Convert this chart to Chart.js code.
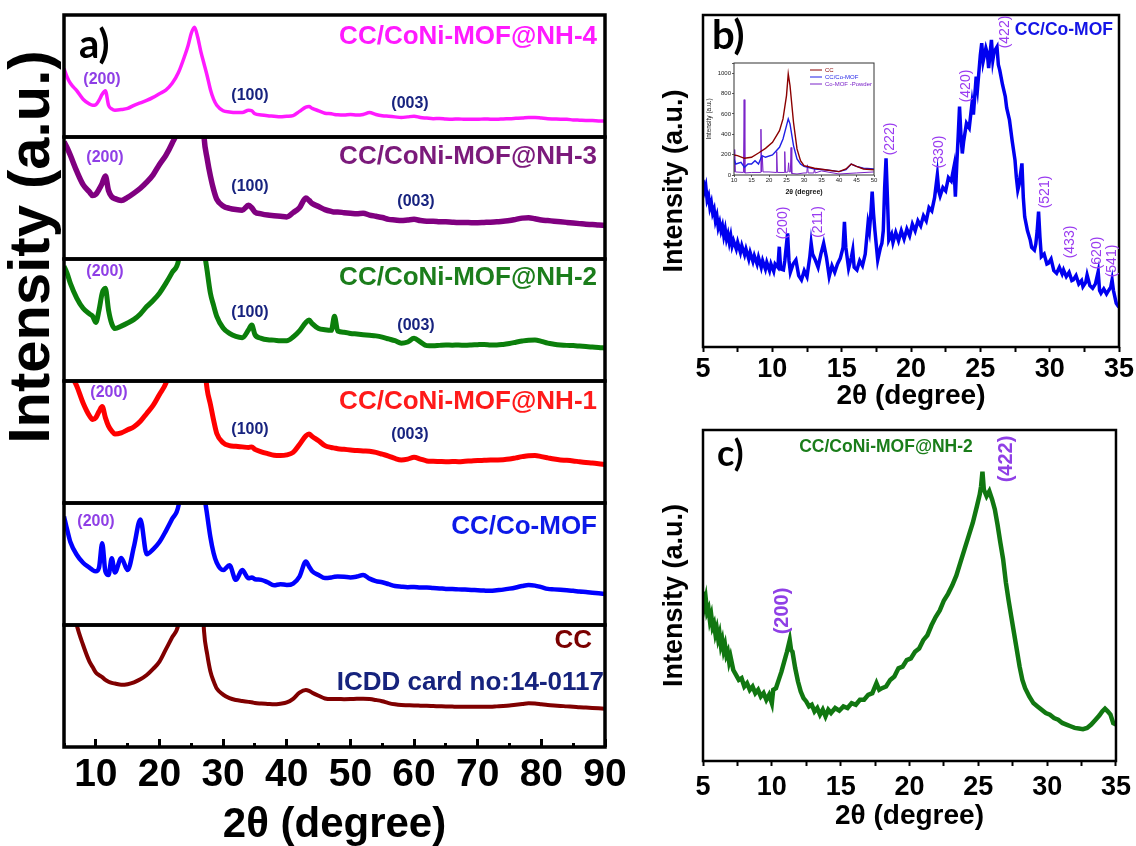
<!DOCTYPE html>
<html>
<head>
<meta charset="utf-8">
<script src="https://cdn.jsdelivr.net/npm/chart.js@4.4.1/dist/chart.umd.min.js"></script>
<style>
  html, body { margin:0; padding:0; background:#ffffff; }
  body { width:1136px; height:846px; position:relative; overflow:hidden; }
  canvas { position:absolute; display:block; }
</style>
</head>
<body>
<canvas id="panelA" width="640" height="846" style="left:0px;top:0px;width:640px;height:846px"></canvas>
<canvas id="panelB" width="496" height="420" style="left:640px;top:0px;width:496px;height:420px"></canvas>
<canvas id="panelInset" width="180" height="145" style="left:700px;top:55px;width:180px;height:145px"></canvas>
<canvas id="panelC" width="496" height="426" style="left:640px;top:420px;width:496px;height:426px"></canvas>
<script>
// ---------------- DATA ----------------
// Panel a: 2θ grid (degree) shared by the six stacked patterns; intensities in a.u. (0-100 per sub-panel)
const thetaA = [5, 5.5, 6, 7, 8, 9, 9.5, 10, 10.5, 11,
  11.5, 12, 12.5, 13, 14, 15, 16, 17, 18, 19,
  20, 21, 22, 23, 24, 24.5, 25, 25.5, 26, 26.5,
  27, 27.5, 28, 28.5, 29, 30, 31, 32, 33, 34,
  34.5, 35, 36, 37, 38, 39, 40, 41, 42, 43,
  43.5, 44, 45, 46, 47, 47.5, 48, 49, 50, 51,
  52, 53, 54, 55, 56, 57, 58, 59, 60, 61,
  62, 63, 64, 65, 66, 67, 68, 69, 70, 71,
  72, 73, 74, 75, 76, 77, 78, 79, 80, 81,
  82, 83, 84, 85, 86, 87, 88, 89, 90];

const nh4 = [56, 49, 44, 38, 31, 27, 26, 26.5, 30, 35,
  38, 26, 23, 22, 22.5, 23.5, 26, 28, 30, 32.5,
  35.5, 38.5, 44, 53, 67, 75, 85, 90, 82, 70,
  60, 50, 39, 31, 26, 21.5, 20.5, 20, 20, 22,
  21.5, 19, 18, 17.4, 17, 16.5, 17, 17.5, 21, 24.5,
  25, 23.5, 21.5, 19.5, 19, 18.5, 18.2, 18, 18.5, 18,
  18.5, 20, 18.5, 17.5, 17, 16.5, 16, 16.5, 17, 16,
  15.5, 15, 15.2, 14.8, 14.6, 14.8, 14.5, 14.6, 14.5, 14.8,
  14.6, 14.5, 14.8, 15, 15.3, 15.6, 16, 16, 15.5, 15,
  14.8, 14.6, 14.5, 14, 13.8, 13.6, 13.5, 13.2, 13];

const nh3 = [96, 91, 85, 72, 61, 55, 52, 53, 57, 62,
  68, 56, 51, 49.5, 48, 50.5, 54, 58, 63, 69,
  77.5, 85, 95, 108, 140, 165, 190, 200, 185, 150,
  100, 82, 68, 57, 49, 43.5, 41.5, 40.5, 40, 44,
  42, 38.5, 37, 36, 35.5, 35, 34.5, 38, 42, 50,
  48, 45.5, 43, 40.5, 39, 38.5, 38.5, 38, 37.5, 37,
  37.5, 36, 35, 34, 32.5, 32, 31.5, 32, 32.5, 31.5,
  31, 31, 30.6, 30.5, 30.2, 30, 30, 29.8, 29.8, 30,
  30.2, 30.5, 31, 31.5, 32.5, 33.5, 33.9, 33, 32, 31.5,
  31, 30.5, 30, 29.5, 29, 28.5, 28.2, 27.8, 27.5];

const nh2 = [94, 88, 80, 68, 59.6, 55, 53, 48, 58, 72,
  76, 58, 47, 43, 45, 47.5, 50.5, 55, 61, 66,
  72, 80, 89, 99, 140, 165, 190, 200, 185, 150,
  110, 90, 72, 62, 53, 43.5, 39, 36.5, 35.5, 42,
  46, 38, 35, 33.8, 33.5, 33, 33, 36, 41, 48,
  50, 47, 43, 42, 41.5, 53, 41, 40, 39, 38.5,
  38, 37.5, 37, 36, 34.5, 33, 31, 32, 35, 32,
  29, 28.8, 29.2, 29.5, 29.4, 29.5, 29.3, 29.5, 29.8, 30,
  29.6, 29.5, 30, 30.8, 31.8, 32.8, 33.5, 33.6, 32.5, 31,
  30.2, 29.6, 29.2, 29, 28.6, 28.2, 27.8, 27.5, 27];

const nh1 = [120, 113, 106, 96, 82, 71.5, 68.5, 70, 75, 79,
  70, 63, 59, 56.5, 57.5, 60, 62.5, 67, 73.4, 80,
  89, 98, 115, 135, 160, 175, 190, 200, 190, 160,
  118, 93, 81, 68, 57, 49.4, 47, 46.5, 46, 45.5,
  46, 44, 42, 40.5, 39.2, 39, 39.5, 41.5, 48, 55,
  56.5, 54.5, 51, 47, 45.5, 45, 44.5, 44, 43.5, 43,
  42.6, 42.4, 41.5, 40, 38.5, 36.5, 35.3, 36, 37.5, 36,
  34.5, 34.2, 34, 33.8, 34, 33.9, 34.2, 34.5, 34.8, 35,
  35.2, 35.3, 35.5, 36, 37, 38, 38.8, 39, 38, 37,
  36, 35.3, 35, 34.5, 33.8, 33.2, 32.8, 32.2, 31.5];

const coMOF = [89, 78, 68, 57.6, 51, 47, 45, 44, 47, 67,
  44, 41, 54.8, 43, 55, 45, 64.5, 86.5, 58, 62,
  68, 77, 87, 98, 140, 165, 190, 200, 185, 150,
  110, 90, 72, 59, 51, 45, 49, 37, 45, 38.3,
  39, 37.5, 37, 35, 32.5, 33.5, 32.8, 34, 39.7, 52,
  48, 44, 41, 38.5, 39, 39.5, 39.7, 39.5, 39, 39.7,
  41, 38, 36, 35, 33.5, 32, 31.4, 31, 31.2, 30.8,
  30.8, 30.3, 30, 29.6, 29.5, 29.2, 29, 28.7, 28.5, 28.2,
  28, 28.5, 29, 29.8, 30.8, 32, 32.8, 32.3, 31, 29.6,
  29.2, 28.8, 28.4, 28, 27.4, 27, 26.5, 26, 25.5];

const cc = [160, 140, 125, 100, 83.6, 70, 65.5, 61, 59, 57.3,
  55, 53.5, 52.5, 52, 51, 51.5, 53, 55.5, 59, 64,
  70, 80, 90, 101, 140, 165, 190, 200, 185, 150,
  95, 76, 62, 54, 48, 43, 40, 38.5, 37.7, 37,
  36.7, 36, 35.6, 35.3, 35, 35.5, 36.5, 39.5, 44.5, 46.7,
  46, 44.5, 42, 39.8, 39.3, 39.3, 39.3, 39.2, 39.3, 39.5,
  39.6, 39.3, 38.5, 37.5, 36, 35, 34.4, 34.2, 34, 33.9,
  33.8, 33.6, 33.4, 33.2, 33.1, 33, 33, 33, 33, 33,
  33, 33.3, 33.6, 34, 34.6, 35.2, 35.8, 35.6, 35, 34.4,
  34, 33.7, 33.3, 33, 32.6, 32.3, 32, 31.7, 31.4];

// Panel b: CC/Co-MOF, 2θ 5-35
const thetaB = [5.0, 5.1, 5.2, 5.3, 5.4, 5.5, 5.6, 5.7, 5.8, 5.9,
  6.0, 6.1, 6.2, 6.3, 6.4, 6.5, 6.6, 6.7, 6.8, 6.9,
  7.0, 7.1, 7.2, 7.4, 7.5, 7.7, 7.8, 8.0, 8.1, 8.3,
  8.4, 8.6, 8.7, 8.9, 9.0, 9.2, 9.3, 9.5, 9.6, 9.8,
  9.9, 10.1, 10.2, 10.4, 10.5, 10.6, 10.8, 10.9, 11.1, 11.2,
  11.3, 11.5, 11.7, 11.9, 12.1, 12.3, 12.5, 12.7, 12.8, 12.9,
  13.1, 13.3, 13.5, 13.7, 13.9, 14.1, 14.3, 14.5, 14.7, 14.9,
  15.1, 15.2, 15.3, 15.5, 15.7, 15.8, 15.9, 16.1, 16.3, 16.5,
  16.7, 16.9, 17.0, 17.1, 17.2, 17.3, 17.4, 17.6, 17.8, 17.9,
  18.0, 18.1, 18.2, 18.3, 18.4, 18.6, 18.7, 18.9, 19.1, 19.3,
  19.5, 19.7, 19.9, 20.1, 20.3, 20.5, 20.7, 20.9, 21.1, 21.3,
  21.5, 21.7, 21.9, 22.0, 22.1, 22.3, 22.5, 22.7, 22.9, 23.1,
  23.2, 23.3, 23.4, 23.5, 23.6, 23.7, 23.8, 24.0, 24.2, 24.4,
  24.5, 24.7, 24.8, 25.0, 25.1, 25.2, 25.4, 25.5, 25.6, 25.8,
  25.9, 26.0, 26.2, 26.3, 26.4, 26.6, 26.8, 26.9, 27.1, 27.3,
  27.5, 27.6, 27.7, 27.8, 28.0, 28.1, 28.2, 28.4, 28.6, 28.7,
  28.9, 29.0, 29.1, 29.2, 29.3, 29.4, 29.6, 29.8, 29.9, 30.1,
  30.3, 30.5, 30.7, 30.9, 31.0, 31.2, 31.4, 31.6, 31.7, 31.9,
  32.1, 32.3, 32.4, 32.6, 32.7, 32.9, 33.1, 33.3, 33.5, 33.6,
  33.7, 33.9, 34.1, 34.2, 34.4, 34.5, 34.6, 34.8, 35.0];
const intensityB = [50.3, 47, 48.5, 44.3, 45.5, 42, 43.5, 40.3, 41.5, 38,
  39.5, 36, 37.5, 35, 36.5, 33.5, 35.5, 32.5, 34, 31.5,
  33.5, 30.5, 32, 29.5, 31.5, 28.5, 30.5, 27.8, 29.5, 26.5,
  28.5, 25.8, 27.5, 25, 27, 24, 26, 23.5, 25.5, 23,
  25, 22.8, 25, 24, 30.2, 23.5, 23.2, 26, 34.2, 26,
  22.5, 25, 26.2, 21.5, 20.2, 23, 21.2, 27, 31.2, 28,
  26.2, 24, 28, 31.2, 27, 21.2, 24.5, 22.5, 25, 26.7,
  30, 37.7, 30, 23.7, 27, 29.2, 24, 23.2, 26, 24.5,
  28, 37.2, 35, 40, 46.8, 40, 35, 26.2, 30, 31.2,
  35, 48, 56.8, 45, 32.2, 34, 31.5, 34.5, 32, 35,
  32.5, 35.5, 33.5, 37, 35, 38, 36.5, 39.5, 38, 42,
  41, 45, 51.8, 47, 45.5, 48, 47, 51, 50, 54.3,
  45.3, 55, 63.3, 72.4, 64, 58.3, 62, 67.4, 66, 73.4,
  70, 81.4, 78, 88, 91.5, 86, 90, 88.5, 84, 92.5,
  86.4, 89, 90.4, 85, 83.4, 79, 75.4, 72, 68.4, 62,
  56.3, 51, 47.3, 49, 55.3, 45, 39.2, 35, 32.2, 30,
  29.2, 31, 35, 40.8, 33, 27.2, 28, 25, 25.2, 26.5,
  23, 22.2, 24, 22, 23.2, 21.2, 22.5, 20, 20.2, 21.5,
  19, 20, 18.2, 19.5, 21.7, 18.5, 17.7, 19, 22.7, 17,
  16.2, 17.5, 16, 16.7, 18, 20.2, 17, 13.2, 12];

// Inset of panel b (Intensity a.u., 2θ 10-50)
const insetCCX = [10, 11, 13, 15, 17, 19, 21, 23, 24, 25, 25.5, 26, 27, 28, 29, 30, 33, 36, 40, 42, 43.5, 45, 47, 50];
const insetCCY = [197, 190, 164, 174, 216, 262, 321, 436, 551, 780, 993, 879, 518, 256, 141, 92, 66, 52, 33, 59, 108, 85, 59, 52];
const insetMofX = [10, 10.5, 12, 13, 14, 15, 16, 17, 18, 19, 21, 23, 24, 25, 25.5, 26, 27, 28, 29, 30, 33, 36, 40, 42, 43.5, 45, 47, 50];
const insetMofY = [157, 108, 125, 75, 108, 108, 141, 108, 190, 174, 197, 272, 354, 485, 551, 502, 289, 157, 108, 85, 59, 52, 33, 52, 108, 85, 66, 59];
const insetPowX = [10, 10.2, 10.4, 12.7, 12.9, 13.1, 15, 17.5, 17.7, 17.9,
  18.1, 18.3, 20, 22, 22.2, 22.4, 24.3, 24.5, 24.7, 25.4,
  25.6, 25.8, 26.1, 26.3, 26.5, 28, 30, 30.8, 31, 31.2,
  32.8, 33, 33.2, 35, 40, 45, 50];
const insetPowY = [33, 250, 30, 25, 740, 20, 25, 25, 450, 30,
  180, 30, 30, 25, 230, 25, 25, 230, 25, 30,
  120, 30, 30, 270, 15, 10, 20, 20, 100, 20,
  20, 60, 20, 40, 10, 20, 30];

// Panel c: CC/CoNi-MOF@NH-2, 2θ 5-35
const thetaC = [5.0, 5.1, 5.2, 5.3, 5.4, 5.5, 5.6, 5.7, 5.8, 5.9,
  6.0, 6.1, 6.2, 6.3, 6.4, 6.5, 6.6, 6.7, 6.8, 6.9,
  7.0, 7.2, 7.4, 7.6, 7.8, 8.0, 8.2, 8.4, 8.6, 8.8,
  9.0, 9.2, 9.4, 9.6, 9.8, 10.0, 10.1, 10.3, 10.5, 10.7,
  10.9, 11.1, 11.3, 11.4, 11.5, 11.7, 11.9, 12.1, 12.3, 12.5,
  12.7, 12.9, 13.1, 13.3, 13.5, 13.7, 13.9, 14.1, 14.3, 14.6,
  14.9, 15.2, 15.5, 15.8, 16.1, 16.4, 16.7, 17.0, 17.3, 17.6,
  17.8, 18.0, 18.3, 18.6, 18.9, 19.2, 19.5, 19.8, 20.1, 20.4,
  20.7, 21.0, 21.3, 21.6, 21.9, 22.2, 22.5, 22.8, 23.1, 23.4,
  23.7, 24.0, 24.3, 24.6, 24.9, 25.1, 25.2, 25.3, 25.4, 25.6,
  25.8, 26.0, 26.2, 26.4, 26.6, 26.8, 27.0, 27.2, 27.4, 27.6,
  27.8, 28.0, 28.2, 28.4, 28.7, 29.0, 29.3, 29.6, 29.9, 30.2,
  30.5, 30.8, 31.1, 31.4, 31.7, 32.0, 32.3, 32.6, 32.9, 33.2,
  33.5, 33.8, 34.0, 34.2, 34.4, 34.6, 34.8, 35.0];
const intensityC = [51.2, 47, 49, 45, 46, 42.5, 44, 40.5, 41.5, 38.5,
  40, 37, 38.5, 35, 36.5, 33.5, 35, 32, 33, 30,
  31.5, 27.5, 26, 24.5, 25, 22.5, 23.5, 21.5, 22.5, 20.5,
  21.5, 19.5, 20.5, 18.5, 20, 17.5, 21.5, 22, 24.5, 27,
  30, 33, 36.5, 33.5, 33, 28, 24, 21, 19, 18,
  16.5, 17, 15, 16, 14, 15.5, 13.5, 15.5, 14.5, 16,
  15.2, 16.5, 16, 17.5, 17, 18.5, 18.5, 20, 20.5, 23.5,
  21.5, 22, 22.5, 24.5, 25.5, 28, 28.5, 30.5, 31, 33,
  34, 36.5, 38, 41, 43.5, 45.5, 48.5, 50.5, 53, 56,
  60, 64, 68, 72, 77, 80.5, 83, 87.4, 82, 80,
  81.5, 79, 76, 71.3, 66, 61, 54, 48.5, 43.5, 38.5,
  33.5, 28.5, 24.5, 22, 19.5, 17.5, 16.5, 15.5, 14.5, 14,
  13, 12.5, 11.5, 11, 10.5, 10, 9.8, 9.6, 10, 11,
  12.4, 13.8, 15, 15.8, 15, 14, 11.4, 11];

// ---------------- STYLE / HELPERS ----------------
const FONT = '"Liberation Sans", Arial, Helvetica, sans-serif';
const PANEL_FONT = 'Lato, "Open Sans", "Liberation Sans", sans-serif';
const bold = px => 'bold ' + px + 'px ' + FONT;
const reg = px => px + 'px ' + FONT;
const PEAK_PURPLE = '#8f3fe6';
const PEAK_NAVY = '#17237f';

Chart.defaults.font.family = FONT;
Chart.defaults.color = '#000';

function textPlugin(items) {
  return {
    id: 'texts',
    afterDraw(chart) {
      const ctx = chart.ctx;
      items.forEach(t => {
        ctx.save();
        ctx.font = t.font;
        ctx.fillStyle = t.color || '#000';
        ctx.textAlign = t.align || 'center';
        ctx.textBaseline = 'middle';
        ctx.translate(t.x, t.y);
        if (t.rot) ctx.rotate(t.rot * Math.PI / 180);
        ctx.fillText(t.text, 0, 0);
        ctx.restore();
      });
    }
  };
}

function boxFrame(width, color) {
  return {
    id: 'boxFrame',
    afterDatasetsDraw(chart) {
      const a = chart.chartArea, ctx = chart.ctx;
      ctx.save();
      ctx.strokeStyle = color || '#000';
      ctx.lineWidth = width;
      ctx.strokeRect(a.left, a.top, a.right - a.left, a.bottom - a.top);
      ctx.restore();
    }
  };
}

const stackFrames = {
  id: 'stackFrames',
  beforeDatasetDraw(chart, args) {
    const ds = chart.data.datasets[args.index];
    const ys = chart.scales[ds.yAxisID];
    const a = chart.chartArea, ctx = chart.ctx;
    ctx.save();
    ctx.beginPath();
    ctx.rect(a.left, ys.top, a.right - a.left, ys.bottom - ys.top);
    ctx.clip();
  },
  afterDatasetDraw(chart) { chart.ctx.restore(); },
  afterDatasetsDraw(chart) {
    const ctx = chart.ctx, a = chart.chartArea;
    ctx.save();
    ctx.strokeStyle = '#000';
    ctx.lineWidth = 3.5;
    Object.values(chart.scales).filter(s => s.axis === 'y').forEach(s => {
      ctx.strokeRect(a.left, s.top, a.right - a.left, s.bottom - s.top);
    });
    ctx.restore();
  }
};

// ---------------- PANEL A ----------------
const aSeries = [
  { label: 'CC/CoNi-MOF@NH-4', values: nh4,   color: '#ff1aff', axis: 'y1', width: 3.5 },
  { label: 'CC/CoNi-MOF@NH-3', values: nh3,   color: '#800080', axis: 'y2', width: 5.5 },
  { label: 'CC/CoNi-MOF@NH-2', values: nh2,   color: '#0b7f0b', axis: 'y3', width: 5 },
  { label: 'CC/CoNi-MOF@NH-1', values: nh1,   color: '#ff0000', axis: 'y4', width: 5 },
  { label: 'CC/Co-MOF',        values: coMOF, color: '#0000ff', axis: 'y5', width: 4.5 },
  { label: 'CC',               values: cc,    color: '#800000', axis: 'y6', width: 4 }
];

const hiddenY = () => ({
  type: 'linear', min: 0, max: 100, stack: 'xrd', stackWeight: 1, position: 'left',
  ticks: { display: false }, grid: { display: false, drawTicks: false }, border: { display: false },
  afterFit(s) { s.width = 0; }
});

const aScales = {};
// stacked axes are laid out bottom-up: declare the lowest sub-panel (CC) first
aSeries.slice().reverse().forEach(s => { aScales[s.axis] = hiddenY(); });
aScales.x = {
  type: 'linear', min: 5, max: 90, position: 'bottom',
  ticks: { stepSize: 5, maxTicksLimit: 100, autoSkip: false, maxRotation: 0, minRotation: 0, padding: 13,
    color: '#000', font: { family: FONT, size: 39, weight: 'bold' },
    callback: v => (v % 10 === 0 ? String(v) : '') },
  afterBuildTicks(s) { s.ticks = s.ticks.filter(t => t.value % 10 === 0); },
  grid: { drawOnChartArea: false, drawTicks: true, tickLength: -8, tickWidth: 3, tickColor: '#000' },
  border: { display: false },
  title: { display: true, text: '2θ (degree)', color: '#000', font: { family: FONT, size: 42, weight: 'bold', lineHeight: 1 }, padding: 0 },
  afterFit(s) { s.height = 99; }
};
aScales.xMinor = {
  type: 'linear', min: 5, max: 90, position: { y6: 0 }, axis: 'x',
  ticks: { stepSize: 5, maxTicksLimit: 100, autoSkip: false, display: false },
  grid: { drawOnChartArea: false, drawTicks: true, tickLength: -4, tickWidth: 3, tickColor: '#000' },
  border: { display: false }
};

const aTexts = [
  { text: 'a)', x: 79, y: 45, font: 'bold 40px ' + PANEL_FONT, align: 'left' },
  { text: 'CC/CoNi-MOF@NH-4', x: 597, y: 37, font: bold(26), color: '#ff1aff', align: 'right' },
  { text: 'CC/CoNi-MOF@NH-3', x: 597, y: 157, font: bold(26), color: '#7b1a7b', align: 'right' },
  { text: 'CC/CoNi-MOF@NH-2', x: 597, y: 278, font: bold(26), color: '#1b7d1b', align: 'right' },
  { text: 'CC/CoNi-MOF@NH-1', x: 597, y: 402, font: bold(26), color: '#ff1a1a', align: 'right' },
  { text: 'CC/Co-MOF', x: 597, y: 527, font: bold(26), color: '#0d1ae8', align: 'right' },
  { text: 'CC', x: 592, y: 641, font: bold(26), color: '#7a0000', align: 'right' },
  { text: 'ICDD card no:14-0117', x: 604, y: 683, font: bold(26), color: '#16237d', align: 'right' },
  { text: '(200)', x: 102, y: 80, font: bold(16), color: PEAK_PURPLE },
  { text: '(100)', x: 250, y: 96, font: bold(16), color: PEAK_NAVY },
  { text: '(003)', x: 410, y: 104, font: bold(16), color: PEAK_NAVY },
  { text: '(200)', x: 105, y: 158, font: bold(16), color: PEAK_PURPLE },
  { text: '(100)', x: 250, y: 187, font: bold(16), color: PEAK_NAVY },
  { text: '(003)', x: 416, y: 202, font: bold(16), color: PEAK_NAVY },
  { text: '(200)', x: 105, y: 272, font: bold(16), color: PEAK_PURPLE },
  { text: '(100)', x: 250, y: 313, font: bold(16), color: PEAK_NAVY },
  { text: '(003)', x: 416, y: 326, font: bold(16), color: PEAK_NAVY },
  { text: '(200)', x: 109, y: 393, font: bold(16), color: PEAK_PURPLE },
  { text: '(100)', x: 250, y: 430, font: bold(16), color: PEAK_NAVY },
  { text: '(003)', x: 410, y: 435, font: bold(16), color: PEAK_NAVY },
  { text: '(200)', x: 96, y: 522, font: bold(16), color: PEAK_PURPLE },
  { text: 'Intensity (a.u.)', x: 33, y: 247, rot: -90, font: bold(58) }
];

new Chart(document.getElementById('panelA'), {
  type: 'line',
  data: {
    datasets: aSeries.map(s => ({
      label: s.label,
      data: thetaA.map((x, i) => ({ x: x, y: s.values[i] })),
      yAxisID: s.axis, xAxisID: 'x',
      borderColor: s.color, borderWidth: s.width, pointRadius: 0,
      cubicInterpolationMode: 'monotone', fill: false
    }))
  },
  options: {
    responsive: false, animation: false, events: [],
    layout: { padding: { left: 64, right: 35, top: 15, bottom: 0 } },
    plugins: { legend: { display: false }, tooltip: { enabled: false } },
    scales: aScales
  },
  plugins: [stackFrames, textPlugin(aTexts)]
});

// ---------------- PANEL B ----------------
const bTexts = [
  { text: 'b)', x: 72, y: 36, font: 'bold 40px ' + PANEL_FONT, align: 'left' },
  { text: 'CC/Co-MOF', x: 473, y: 30, font: bold(17.5), color: '#1414e6', align: 'right' },
  { text: '(200)', x: 143, y: 223, rot: -90, font: reg(14), color: '#9a3cf0' },
  { text: '(211)', x: 178, y: 222, rot: -90, font: reg(14), color: '#9a3cf0' },
  { text: '(222)', x: 250, y: 139, rot: -90, font: reg(14), color: '#9a3cf0' },
  { text: '(330)', x: 299, y: 152, rot: -90, font: reg(14), color: '#9a3cf0' },
  { text: '(420)', x: 326, y: 86, rot: -90, font: reg(14), color: '#9a3cf0' },
  { text: '(422)', x: 365, y: 32, rot: -90, font: reg(14), color: '#9a3cf0' },
  { text: '(521)', x: 405, y: 192, rot: -90, font: reg(14), color: '#9a3cf0' },
  { text: '(433)', x: 430, y: 242, rot: -90, font: reg(14), color: '#9a3cf0' },
  { text: '(620)', x: 457, y: 253, rot: -90, font: reg(14), color: '#9a3cf0' },
  { text: '(541)', x: 472, y: 261, rot: -90, font: reg(14), color: '#9a3cf0' }
];

function xrdScales(bottomHeight, tickPad) {
  return {
    x: {
      type: 'linear', min: 5, max: 35,
      ticks: { stepSize: 2.5, maxTicksLimit: 100, autoSkip: false, maxRotation: 0, minRotation: 0, padding: tickPad,
        color: '#000', font: { family: FONT, size: 27, weight: 'bold' },
        callback: v => (v % 5 === 0 ? String(v) : '') },
      grid: { drawOnChartArea: false, tickLength: 5, tickWidth: 2, tickColor: '#000' },
      border: { display: false },
      title: { display: true, text: '2θ (degree)', color: '#000', font: { family: FONT, size: 28, weight: 'bold', lineHeight: 1 }, padding: 0 },
      afterFit(s) { s.height = bottomHeight; }
    },
    y: {
      type: 'linear', min: 0, max: 100,
      ticks: { display: false }, grid: { display: false, drawTicks: false }, border: { display: false },
      title: { display: true, text: 'Intensity (a.u.)', color: '#000', font: { family: FONT, size: 27, weight: 'bold', lineHeight: 1 }, padding: 0 },
      afterFit(s) { s.width = 42; }
    }
  };
}

new Chart(document.getElementById('panelB'), {
  type: 'line',
  data: {
    datasets: [{
      label: 'CC/Co-MOF',
      data: thetaB.map((x, i) => ({ x: x, y: intensityB[i] })),
      borderColor: '#0000f0', borderWidth: 3.5, pointRadius: 0, tension: 0, fill: false
    }]
  },
  options: {
    responsive: false, animation: false, events: [],
    layout: { padding: { left: 21, right: 17, top: 15, bottom: 10 } },
    plugins: { legend: { display: false }, tooltip: { enabled: false } },
    scales: xrdScales(63, 1)
  },
  plugins: [boxFrame(2.5), textPlugin(bTexts)]
});

// ---------------- INSET ----------------
const insetLegend = {
  id: 'insetLegend',
  afterDraw(chart) {
    const ctx = chart.ctx;
    chart.data.datasets.forEach((ds, i) => {
      const y = 15 + i * 7;
      ctx.save();
      ctx.strokeStyle = ds.borderColor;
      ctx.lineWidth = 1;
      ctx.beginPath(); ctx.moveTo(110, y); ctx.lineTo(122, y); ctx.stroke();
      ctx.fillStyle = ds.borderColor;
      ctx.font = reg(6);
      ctx.textAlign = 'left'; ctx.textBaseline = 'middle';
      ctx.fillText(ds.label, 125, y);
      ctx.restore();
    });
  }
};

new Chart(document.getElementById('panelInset'), {
  type: 'line',
  data: {
    datasets: [
      { label: 'CC', data: insetCCX.map((x, i) => ({ x: x, y: insetCCY[i] })), borderColor: '#8b0000', borderWidth: 1.4, pointRadius: 0, tension: 0 },
      { label: 'CC/Co-MOF', data: insetMofX.map((x, i) => ({ x: x, y: insetMofY[i] })), borderColor: '#1f1fe6', borderWidth: 1.4, pointRadius: 0, tension: 0 },
      { label: 'Co-MOF -Powder', data: insetPowX.map((x, i) => ({ x: x, y: insetPowY[i] })), borderColor: '#7a22c8', borderWidth: 1, pointRadius: 0, tension: 0 }
    ]
  },
  options: {
    responsive: false, animation: false, events: [],
    layout: { padding: { left: 4, right: 6, top: 8, bottom: 4.5 } },
    plugins: { legend: { display: false }, tooltip: { enabled: false } },
    scales: {
      x: {
        type: 'linear', min: 10, max: 50,
        ticks: { stepSize: 5, maxTicksLimit: 100, autoSkip: false, maxRotation: 0, padding: 0, color: '#222', font: { family: FONT, size: 6 } },
        grid: { drawOnChartArea: false, tickLength: 2, tickWidth: 0.8, tickColor: '#333' },
        border: { display: false },
        title: { display: true, text: '2θ (degree)', color: '#111', font: { family: FONT, size: 7, weight: 'bold', lineHeight: 1 }, padding: 0 },
        afterFit(s) { s.height = 20.5; }
      },
      y: {
        type: 'linear', min: 0, max: 1100,
        ticks: { stepSize: 200, maxTicksLimit: 100, autoSkip: false, padding: 1, color: '#222', font: { family: FONT, size: 6 },
          callback: v => (v % 200 === 0 ? String(v) : '') },
        grid: { drawOnChartArea: false, tickLength: 2, tickWidth: 0.8, tickColor: '#333' },
        border: { display: false },
        title: { display: true, text: 'Intensity (a.u.)', color: '#111', font: { family: FONT, size: 6.5, lineHeight: 1 }, padding: { top: 1.75, bottom: 0 } },
        afterFit(s) { s.width = 30; }
      }
    }
  },
  plugins: [boxFrame(1, '#333'), insetLegend]
});

// ---------------- PANEL C ----------------
const cTexts = [
  { text: 'c)', x: 77, y: 34, font: 'bold 36px ' + PANEL_FONT, align: 'left' },
  { text: 'CC/CoNi-MOF@NH-2', x: 246, y: 27, font: bold(17.5), color: '#1a7d1a' },
  { text: '(200)', x: 142, y: 191, rot: -90, font: bold(20), color: PEAK_PURPLE },
  { text: '(422)', x: 366, y: 39, rot: -90, font: bold(20), color: PEAK_PURPLE }
];

new Chart(document.getElementById('panelC'), {
  type: 'line',
  data: {
    datasets: [{
      label: 'CC/CoNi-MOF@NH-2',
      data: thetaC.map((x, i) => ({ x: x, y: intensityC[i] })),
      borderColor: '#117711', borderWidth: 4.5, pointRadius: 0, tension: 0, fill: false
    }]
  },
  options: {
    responsive: false, animation: false, events: [],
    layout: { padding: { left: 21, right: 17, top: 10, bottom: 16 } },
    plugins: { legend: { display: false }, tooltip: { enabled: false } },
    scales: xrdScales(69, 5)
  },
  plugins: [boxFrame(2.5), textPlugin(cTexts)]
});
</script>
</body>
</html>
